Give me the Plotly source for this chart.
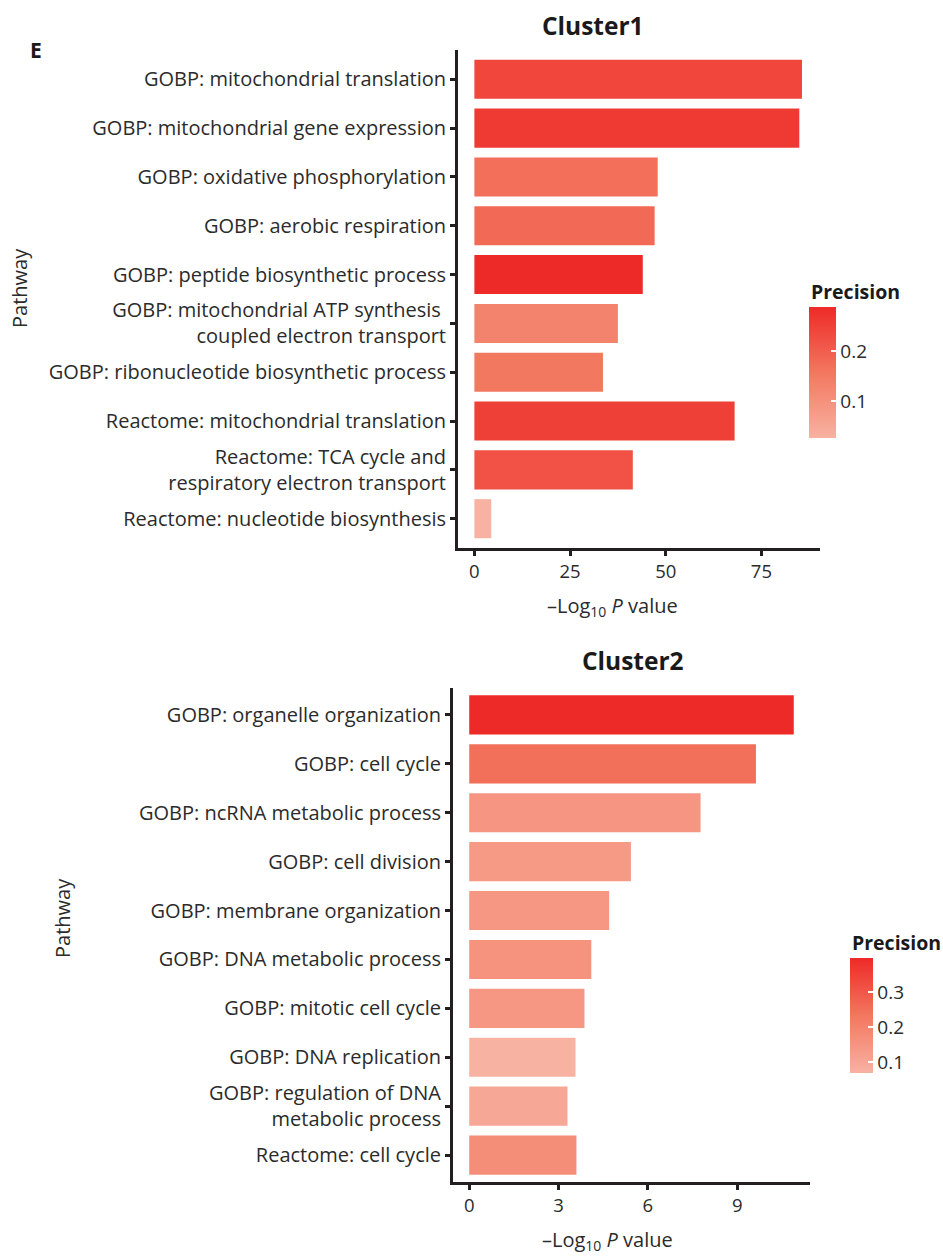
import plotly.graph_objects as go

W, H = 943, 1256

# ---------------- data ----------------
c1_pathways = [
    "GOBP: mitochondrial translation",
    "GOBP: mitochondrial gene expression",
    "GOBP: oxidative phosphorylation",
    "GOBP: aerobic respiration",
    "GOBP: peptide biosynthetic process",
    "GOBP: mitochondrial ATP synthesis <br>coupled electron transport",
    "GOBP: ribonucleotide biosynthetic process",
    "Reactome: mitochondrial translation",
    "Reactome: TCA cycle and<br>respiratory electron transport",
    "Reactome: nucleotide biosynthesis",
]
c1_logp = [85.6, 84.9, 47.9, 47.1, 44.0, 37.5, 33.6, 68.0, 41.4, 4.4]
c1_precision = [0.24, 0.26, 0.17, 0.18, 0.288, 0.13, 0.155, 0.25, 0.22, 0.026]

c2_pathways = [
    "GOBP: organelle organization",
    "GOBP: cell cycle",
    "GOBP: ncRNA metabolic process",
    "GOBP: cell division",
    "GOBP: membrane organization",
    "GOBP: DNA metabolic process",
    "GOBP: mitotic cell cycle",
    "GOBP: DNA replication",
    "GOBP: regulation of DNA<br>metabolic process",
    "Reactome: cell cycle",
]
c2_logp = [10.9, 9.63, 7.77, 5.43, 4.7, 4.1, 3.87, 3.57, 3.3, 3.6]
c2_precision = [0.397, 0.25, 0.15, 0.14, 0.145, 0.155, 0.145, 0.07, 0.10, 0.17]

c1_xticks = [0, 25, 50, 75]
c2_xticks = [0, 3, 6, 9]
c1_cbar_ticks = [0.1, 0.2]
c2_cbar_ticks = [0.1, 0.2, 0.3]

# ---------------- style ----------------
FONT = "Open Sans"
TXT = "#2b2b2b"
AX = "#231f20"
scale = [[0.0, "#F8B2A2"], [0.5, "#F3775F"], [1.0, "#EE2A28"]]


def px(x):
    return x / W


def py(y):
    return 1 - y / H


fig = go.Figure()

fig.add_trace(go.Bar(
    x=c1_logp, y=c1_pathways, orientation="h", width=0.8,
    marker=dict(color=c1_precision, coloraxis="coloraxis", line_width=0),
    xaxis="x", yaxis="y", showlegend=False,
))
fig.add_trace(go.Bar(
    x=c2_logp, y=c2_pathways, orientation="h", width=0.8,
    marker=dict(color=c2_precision, coloraxis="coloraxis2", line_width=0),
    xaxis="x2", yaxis="y2", showlegend=False,
))

axis_common = dict(
    showline=True, linewidth=3, linecolor=AX, mirror=False,
    ticks="outside", ticklen=5, tickwidth=3, tickcolor=AX,
    showgrid=False, zeroline=False,
)
yfont = dict(family=FONT, size=20, color=TXT)
xfont = dict(family=FONT, size=18.5, color=TXT)

# panel geometry (pixels)
p1 = dict(x0=458, x1=820, y0=50, y1=548)
p2 = dict(x0=453, x1=810, y0=688, y1=1182)

c1_max = max(c1_logp)
c2_max = max(c2_logp)

cb1 = dict(x0=809, x1=836, y0=307, y1=438, cmin=min(c1_precision), cmax=max(c1_precision))
cb2 = dict(x0=850, x1=873, y0=958, y1=1073, cmin=min(c2_precision), cmax=max(c2_precision))

fig.update_layout(
    width=W, height=H,
    margin=dict(l=0, r=0, t=0, b=0),
    paper_bgcolor="white", plot_bgcolor="white",
    font=dict(family=FONT, color=TXT),
    xaxis=dict(axis_common, domain=[px(p1["x0"]), px(p1["x1"])],
               range=[-0.05 * c1_max, 1.055 * c1_max],
               tickvals=c1_xticks, anchor="y", tickfont=xfont),
    yaxis=dict(axis_common, domain=[py(p1["y1"]), py(p1["y0"])],
               type="category", categoryorder="array", categoryarray=c1_pathways,
               range=[len(c1_pathways) - 0.4, -0.6], anchor="x", tickfont=yfont),
    xaxis2=dict(axis_common, domain=[px(p2["x0"]), px(p2["x1"])],
                range=[-0.05 * c2_max, 1.05 * c2_max],
                tickvals=c2_xticks, anchor="y2", tickfont=xfont),
    yaxis2=dict(axis_common, domain=[py(p2["y1"]), py(p2["y0"])],
                type="category", categoryorder="array", categoryarray=c2_pathways,
                range=[len(c2_pathways) - 0.45, -0.55], anchor="x2", tickfont=yfont),
    coloraxis=dict(
        colorscale=scale, cmin=cb1["cmin"], cmax=cb1["cmax"],
        colorbar=dict(
            x=px(cb1["x0"]), xanchor="left", xpad=0,
            y=py((cb1["y0"] + cb1["y1"]) / 2), yanchor="middle", ypad=0,
            thickness=cb1["x1"] - cb1["x0"], thicknessmode="pixels",
            len=cb1["y1"] - cb1["y0"], lenmode="pixels",
            outlinewidth=0, tickvals=c1_cbar_ticks,
            ticks="inside", ticklen=5, tickwidth=1.5, tickcolor="white",
            tickfont=dict(family=FONT, size=19, color=TXT),
        ),
    ),
    coloraxis2=dict(
        colorscale=scale, cmin=cb2["cmin"], cmax=cb2["cmax"],
        colorbar=dict(
            x=px(cb2["x0"]), xanchor="left", xpad=0,
            y=py((cb2["y0"] + cb2["y1"]) / 2), yanchor="middle", ypad=0,
            thickness=cb2["x1"] - cb2["x0"], thicknessmode="pixels",
            len=cb2["y1"] - cb2["y0"], lenmode="pixels",
            outlinewidth=0, tickvals=c2_cbar_ticks,
            ticks="inside", ticklen=5, tickwidth=1.5, tickcolor="white",
            tickfont=dict(family=FONT, size=19, color=TXT),
        ),
    ),
)

# left-side white ticks on colorbars (ggplot style)
shapes = []
for cb, ticks in ((cb1, c1_cbar_ticks), (cb2, c2_cbar_ticks)):
    for t in ticks:
        yy = cb["y1"] - (t - cb["cmin"]) / (cb["cmax"] - cb["cmin"]) * (cb["y1"] - cb["y0"])
        shapes.append(dict(type="line", xref="paper", yref="paper",
                           x0=px(cb["x0"]), x1=px(cb["x0"] + 5), y0=py(yy), y1=py(yy),
                           line=dict(color="white", width=1.5)))
fig.update_layout(shapes=shapes)

ann = []


def add_text(text, x, y, size, bold=False, angle=0, xanchor="center"):
    ann.append(dict(
        text=f"<b>{text}</b>" if bold else text,
        x=px(x), y=py(y), xref="paper", yref="paper",
        xanchor=xanchor, yanchor="middle", showarrow=False, textangle=angle,
        font=dict(family=FONT, size=size, color="#1a1a1a" if bold else TXT),
    ))


add_text("E", 36, 50, 21, bold=True)
add_text("Cluster1", 593, 25, 24.5, bold=True)
add_text("Cluster2", 633, 660, 24.5, bold=True)
add_text("Pathway", 20, 288, 20, angle=-90)
add_text("Pathway", 62, 918, 20, angle=-90)
xtitle = "\u2013Log<sub>10</sub> <i>P</i> value"
add_text(xtitle, 612, 606, 20)
add_text(xtitle, 607, 1240, 20)
add_text("Precision", cb1["x0"], 291, 19.5, bold=True, xanchor="left")
add_text("Precision", cb2["x0"], 942, 19.5, bold=True, xanchor="left")
fig.update_layout(annotations=ann)

fig.write_html(
    "out.html",
    config={"displayModeBar": False},
    post_script="document.body.style.margin='0';document.documentElement.style.overflow='hidden';",
)
